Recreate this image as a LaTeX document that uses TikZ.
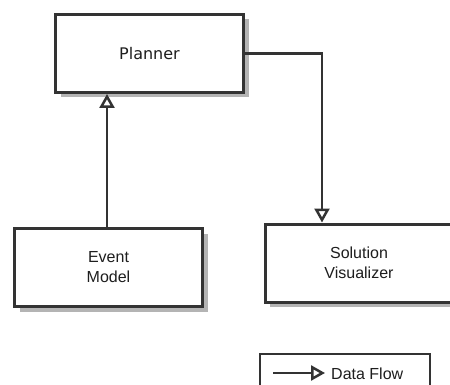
\documentclass[tikz,border=0pt]{standalone}
\usepackage{fontspec}
\setmainfont{Liberation Sans}
\newfontfamily\plannerfont{DejaVu Sans}
\usetikzlibrary{arrows.meta,shadows}
\definecolor{edge}{RGB}{51,51,51}
\definecolor{shade}{RGB}{180,180,180}
\definecolor{ink}{RGB}{30,30,30}
\tikzset{
  block/.style={draw=edge, line width=3pt, fill=white, rectangle,
    minimum width=188pt, minimum height=78pt, inner sep=0pt,
    align=center, text=ink, font=\fontsize{16}{20}\selectfont,
    drop shadow={shadow xshift=5pt, shadow yshift=-5pt, fill=shade, opacity=1}},
  legendbox/.style={draw=edge, line width=2.5pt, fill=white, rectangle,
    minimum width=170pt, minimum height=40pt, inner sep=0pt},
  flow/.style={draw=edge, line width=2.5pt,
    -{Triangle[open, length=14pt, width=15pt, line width=2.5pt]}},
}
\begin{document}
\begin{tikzpicture}[x=1pt, y=-1pt]
  \useasboundingbox (0,0) rectangle (450,385);
  \fill[white] (0,0) rectangle (450,385);

  % component boxes
  \node[block, font=\plannerfont\fontsize{16}{20}\selectfont] (planner) at (149.5,53.5) {Planner};
  \node[block] (event) at (108.5,267.5) {Event\\Model};
  \node[block] (solution) at (359,263) {Solution\\Visualizer};

  % data flow between components
  \coordinate (eventout) at (107,227);
  \draw[flow] (eventout) -- (eventout |- planner.south);
  \coordinate (bend) at (322,53.5);
  \draw[flow] (planner.east) -- (bend) -- (bend |- solution.north);

  % legend
  \node[legendbox] (legend) at (345,374) {};
  \coordinate (keyA) at (273,373);
  \coordinate (keyB) at (325,373);
  \draw[flow] (keyA) -- (keyB);
  \node[anchor=west, inner sep=0pt, text=ink, font=\fontsize{16}{20}\selectfont] (keytext) at (331,374) {Data Flow};
\end{tikzpicture}
\end{document}
